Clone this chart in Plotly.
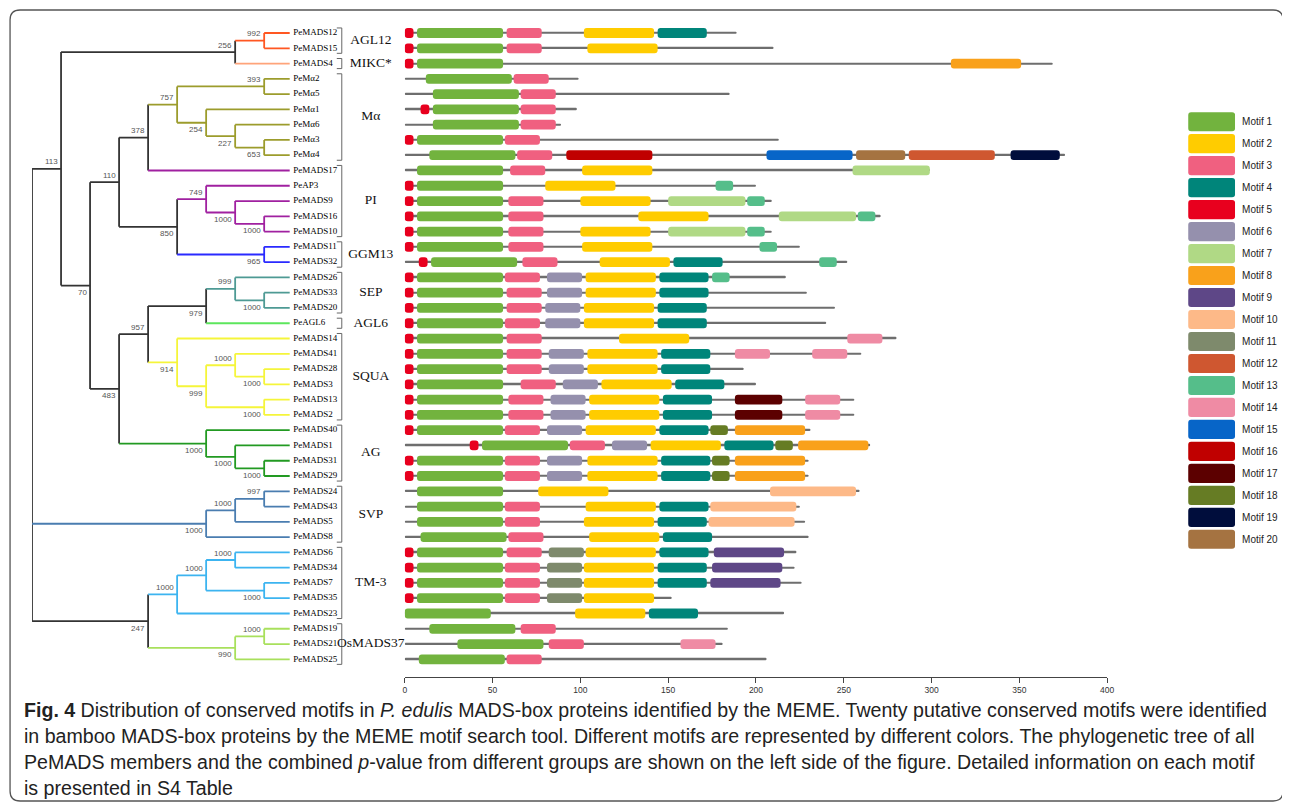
import plotly.graph_objects as go

# ---------------- DATA ----------------
PROTEINS = ["PeMADS12", "PeMADS15", "PeMADS4", "PeMα2", "PeMα5", "PeMα1", "PeMα6", "PeMα3", "PeMα4",
            "PeMADS17", "PeAP3", "PeMADS9", "PeMADS16", "PeMADS10", "PeMADS11", "PeMADS32",
            "PeMADS26", "PeMADS33", "PeMADS20", "PeAGL6", "PeMADS14", "PeMADS41", "PeMADS28",
            "PeMADS3", "PeMADS13", "PeMADS2", "PeMADS40", "PeMADS1", "PeMADS31", "PeMADS29",
            "PeMADS24", "PeMADS43", "PeMADS5", "PeMADS8", "PeMADS6", "PeMADS34", "PeMADS7",
            "PeMADS35", "PeMADS23", "PeMADS19", "PeMADS21", "PeMADS25"]

LENGTHS = [189, 210, 369, 99, 185, 98, 89, 213, 376,
           299, 200, 209, 271, 209, 225, 252,
           217, 229, 245, 240, 280, 260, 193,
           200, 256, 256, 231, 265, 230, 230,
           259, 225, 228, 230, 223, 222, 226,
           152, 216, 184, 181, 206]

# (motif number, start position) for every protein, same order as PROTEINS
MOTIF_HITS = [
    [(5, 0), (1, 7), (3, 58), (2, 102), (4, 144)],
    [(5, 0), (1, 7), (3, 58), (2, 104)],
    [(5, 0), (1, 7), (8, 311)],
    [(1, 12), (3, 62)],
    [(1, 16), (3, 66)],
    [(5, 9), (1, 16), (3, 66)],
    [(1, 16), (3, 66)],
    [(5, 0), (1, 7), (3, 57)],
    [(1, 14), (3, 64), (16, 92), (15, 206), (20, 257), (12, 287), (19, 345)],
    [(1, 7), (3, 60), (2, 101), (7, 255)],
    [(5, 0), (1, 7), (2, 80), (13, 177)],
    [(5, 0), (1, 7), (3, 59), (2, 100), (7, 150), (13, 195)],
    [(5, 0), (1, 7), (3, 59), (2, 133), (7, 213), (13, 258)],
    [(5, 0), (1, 7), (3, 59), (2, 100), (7, 150), (13, 195)],
    [(5, 0), (1, 7), (3, 59), (2, 101), (13, 202)],
    [(5, 8), (1, 15), (3, 67), (2, 111), (4, 153), (13, 236)],
    [(5, 0), (1, 7), (3, 57), (6, 81), (2, 103), (4, 145), (13, 175)],
    [(5, 0), (1, 7), (3, 58), (6, 81), (2, 103), (4, 145)],
    [(5, 0), (1, 7), (3, 58), (6, 80), (2, 102), (4, 144)],
    [(5, 0), (1, 7), (3, 57), (6, 80), (2, 102), (4, 144)],
    [(5, 0), (1, 7), (3, 58), (2, 122), (14, 252)],
    [(5, 0), (1, 7), (3, 58), (6, 82), (2, 104), (4, 146), (14, 188), (14, 232)],
    [(5, 0), (1, 7), (3, 58), (6, 82), (2, 104), (4, 146)],
    [(5, 0), (1, 7), (3, 66), (6, 90), (2, 112), (4, 154)],
    [(5, 0), (1, 7), (3, 59), (6, 83), (2, 105), (4, 147), (17, 188), (14, 228)],
    [(5, 0), (1, 7), (3, 59), (6, 83), (2, 105), (4, 147), (17, 188), (14, 228)],
    [(5, 0), (1, 7), (3, 57), (6, 81), (2, 103), (4, 145), (18, 174), (8, 188)],
    [(5, 37), (1, 44), (3, 94), (6, 118), (2, 140), (4, 182), (18, 211), (8, 224)],
    [(5, 0), (1, 7), (3, 57), (6, 81), (2, 104), (4, 146), (18, 175), (8, 188)],
    [(5, 0), (1, 7), (3, 57), (6, 81), (2, 104), (4, 146), (18, 175), (8, 188)],
    [(1, 7), (2, 76), (10, 208)],
    [(1, 7), (3, 57), (2, 103), (4, 145), (10, 174)],
    [(1, 7), (3, 57), (2, 102), (4, 144), (10, 173)],
    [(1, 9), (3, 59), (2, 105), (4, 147)],
    [(5, 0), (1, 7), (3, 58), (11, 82), (2, 103), (4, 145), (9, 176)],
    [(5, 0), (1, 7), (3, 57), (11, 81), (2, 102), (4, 144), (9, 175)],
    [(5, 0), (1, 7), (3, 57), (11, 81), (2, 102), (4, 144), (9, 174)],
    [(5, 0), (1, 7), (3, 57), (11, 81), (2, 102)],
    [(1, 0), (2, 97), (4, 139)],
    [(1, 14), (3, 66)],
    [(1, 30), (3, 82), (14, 157)],
    [(1, 8), (3, 58)],
]

MOTIF_NAMES = ["Motif %d" % i for i in range(1, 21)]
MOTIF_LEN = [49, 40, 20, 28, 5, 20, 44, 40, 40, 49, 20, 49, 10, 20, 49, 49, 27, 10, 28, 28]
MOTIF_COLORS = ["#72B33E", "#FFCC00", "#F06080", "#00857A", "#E8001E", "#9590AD", "#B0D985",
                "#F9A11B", "#5E4787", "#FDB988", "#7E8A6C", "#CF5730", "#55BE8A", "#EF8BA4",
                "#0765C8", "#C00000", "#5C0000", "#667C24", "#000D3C", "#A57341"]

AXIS_TICKS = [0, 50, 100, 150, 200, 250, 300, 350, 400]

# groups: (name, first protein, last protein, branch colour)
GROUPS = [("AGL12", "PeMADS12", "PeMADS15", "#FF5722"),
          ("MIKC*", "PeMADS4", "PeMADS4", "#FFA47A"),
          ("Mα", "PeMα2", "PeMα4", "#9C9C2C"),
          ("PI", "PeMADS17", "PeMADS10", "#A020A0"),
          ("GGM13", "PeMADS11", "PeMADS32", "#2A2AFF"),
          ("SEP", "PeMADS26", "PeMADS20", "#4E9A94"),
          ("AGL6", "PeAGL6", "PeAGL6", "#5CE65C"),
          ("SQUA", "PeMADS14", "PeMADS2", "#F5F53A"),
          ("AG", "PeMADS40", "PeMADS29", "#229A22"),
          ("SVP", "PeMADS24", "PeMADS8", "#4A7DB0"),
          ("TM-3", "PeMADS6", "PeMADS23", "#3CB4F0"),
          ("OsMADS37", "PeMADS19", "PeMADS25", "#A8E05C")]

# tree: (support, depth level, children[, label side])
TREE = ("", 0, [
    ("113", 1, [
        ("256", 7, [("992", 8, ["PeMADS12", "PeMADS15"]), "PeMADS4"]),
        ("70", 2, [
            ("110", 3, [
                ("378", 4, [
                    ("757", 5, [("393", 8, ["PeMα2", "PeMα5"]),
                                ("254", 6, ["PeMα1", ("227", 7, ["PeMα6", ("653", 8, ["PeMα3", "PeMα4"])])])]),
                    "PeMADS17"]),
                ("850", 5, [
                    ("749", 6, ["PeAP3", ("1000", 7, ["PeMADS9", ("1000", 8, ["PeMADS16", "PeMADS10"])])]),
                    ("965", 8, ["PeMADS11", "PeMADS32"])])]),
            ("483", 3, [
                ("957", 4, [
                    ("979", 6, [("999", 7, ["PeMADS26", ("1000", 8, ["PeMADS33", "PeMADS20"])]), "PeAGL6"], "below"),
                    ("914", 5, ["PeMADS14",
                                ("999", 6, [("1000", 7, ["PeMADS41", ("1000", 8, ["PeMADS28", "PeMADS3"])]),
                                            ("1000", 8, ["PeMADS13", "PeMADS2"])])])]),
                ("1000", 6, ["PeMADS40", ("1000", 7, ["PeMADS1", ("1000", 8, ["PeMADS31", "PeMADS29"])])])])])]),
    ("1000", 6, [("1000", 7, [("997", 8, ["PeMADS24", "PeMADS43"]), "PeMADS5"]), "PeMADS8"]),
    ("247", 4, [
        ("1000", 5, [("1000", 6, [("1000", 7, ["PeMADS6", "PeMADS34"]), ("1000", 8, ["PeMADS7", "PeMADS35"])]),
                     "PeMADS23"]),
        ("990", 7, [("1000", 8, ["PeMADS19", "PeMADS21"]), "PeMADS25"])])])

CAPTION = [
    "<b>Fig. 4</b> Distribution of conserved motifs in <i>P. edulis</i> MADS-box proteins identified by the MEME. Twenty putative conserved motifs were identified",
    "in bamboo MADS-box proteins by the MEME motif search tool. Different motifs are represented by different colors. The phylogenetic tree of all",
    "PeMADS members and the combined <i>p</i>-value from different groups are shown on the left side of the figure. Detailed information on each motif",
    "is presented in S4 Table",
]

# ---------------- LAYOUT CONSTANTS ----------------
OFF = 8                      # page body margin
SX = 0.9938                  # observed horizontal scale of the photograph
W, H = 1290, 810 - 2 * OFF
def PX(p):                   # target picture x pixel -> paper
    return (p / SX - OFF) / W
def PY(p):                   # target picture y pixel -> paper
    return 1 - (p - OFF) / H

BACKBONE = "#333333"
LEAF_LEVEL = 8.88
ROW0_PX, ROW_STEP = 33.0, 15.276
TOP_PX, AXIS_PX = 17.7, 677.0
Y_RANGE = [(AXIS_PX - ROW0_PX) / ROW_STEP, (TOP_PX - ROW0_PX) / ROW_STEP]
Y_DOMAIN = [PY(AXIS_PX), PY(TOP_PX)]
TREE_X0_PX, LEVEL_PX = 30.0, 29.04
X2_RANGE = [0, 13]
X2_DOMAIN = [PX(TREE_X0_PX), PX(TREE_X0_PX + 13 * LEVEL_PX)]
X_DOMAIN = [PX(403), PX(1106)]

SERIF = "Liberation Serif, Times New Roman, serif"
SANS = "Liberation Sans, Arial, sans-serif"

fig = go.Figure()

# ---------------- protein backbones + motifs ----------------
rows = list(range(len(PROTEINS)))
fig.add_trace(go.Bar(orientation="h", y=rows, x=LENGTHS, base=[0] * len(rows), width=0.11,
                     marker=dict(color="#6E6E6E", line=dict(width=0)), xaxis="x", yaxis="y",
                     showlegend=False, hoverinfo="skip"))
for m in range(1, 21):
    ys, bs = [], []
    for r, hits in enumerate(MOTIF_HITS):
        for mm, st in hits:
            if mm == m:
                ys.append(r)
                bs.append(st)
    if ys:
        fig.add_trace(go.Bar(orientation="h", y=ys, x=[MOTIF_LEN[m - 1]] * len(ys), base=bs, width=0.64,
                             marker=dict(color=MOTIF_COLORS[m - 1], line=dict(width=0)),
                             xaxis="x", yaxis="y", showlegend=False, name=MOTIF_NAMES[m - 1],
                             hoverinfo="skip"))

# ---------------- legend swatches ----------------
fig.add_trace(go.Bar(orientation="h", y=list(range(20)), x=[1] * 20, base=[0] * 20, width=0.87,
                     marker=dict(color=MOTIF_COLORS, line=dict(width=0)), xaxis="x3", yaxis="y3",
                     showlegend=False, hoverinfo="skip"))

# ---------------- tree ----------------
leaf_row = {n: i for i, n in enumerate(PROTEINS)}
group_of, group_color = {}, {}
for gname, first, last, col in GROUPS:
    group_color[gname] = col
    for r in range(leaf_row[first], leaf_row[last] + 1):
        group_of[PROTEINS[r]] = gname


def build(node):
    if isinstance(node, str):
        return dict(y=leaf_row[node], level=LEAF_LEVEL, groups={group_of[node]}, kids=[], sup=None, pos=None)
    kids = [build(k) for k in node[2]]
    return dict(y=(kids[0]["y"] + kids[-1]["y"]) / 2, level=node[1],
                groups=set().union(*[k["groups"] for k in kids]), kids=kids, sup=node[0],
                pos=node[3] if len(node) > 3 else None)


root = build(TREE)
segs = {}
boot = []


def add_seg(col, xs, ys):
    d = segs.setdefault(col, ([], []))
    d[0].extend(xs + [None])
    d[1].extend(ys + [None])


def draw(n, parent_level, idx):
    col = group_color[next(iter(n["groups"]))] if len(n["groups"]) == 1 else BACKBONE
    if parent_level is not None:
        add_seg(col, [parent_level, n["level"]], [n["y"], n["y"]])
        if n["sup"]:
            side = n["pos"] or ("above" if idx == 0 else "below")
            boot.append((n["level"], n["y"], n["sup"], side))
    if n["kids"]:
        add_seg(col, [n["level"], n["level"]], [n["kids"][0]["y"], n["kids"][-1]["y"]])
        for i, k in enumerate(n["kids"]):
            draw(k, n["level"], i)


draw(root, None, 0)
for col, (xs, ys) in segs.items():
    fig.add_trace(go.Scatter(x=xs, y=ys, mode="lines", line=dict(color=col, width=1.8),
                             xaxis="x2", yaxis="y", showlegend=False, hoverinfo="skip"))

# leaf names
fig.add_trace(go.Scatter(x=[LEAF_LEVEL + 0.12] * len(PROTEINS), y=rows, mode="text", text=PROTEINS,
                         textposition="middle right", cliponaxis=False,
                         textfont=dict(family=SERIF, size=9, color="#000000"),
                         xaxis="x2", yaxis="y", showlegend=False, hoverinfo="skip"))

# group brackets and labels
BR_X, BR_TICK = (340 - TREE_X0_PX) / LEVEL_PX, (335 - TREE_X0_PX) / LEVEL_PX
GL_X = (369 - TREE_X0_PX) / LEVEL_PX
bx, by, gx, gy, gt = [], [], [], [], []
for gname, first, last, col in GROUPS:
    r0, r1 = leaf_row[first], leaf_row[last]
    bx += [BR_TICK, BR_X, BR_X, BR_TICK, None]
    by += [r0 - 0.33, r0 - 0.33, r1 + 0.33, r1 + 0.33, None]
    gx.append(GL_X)
    gy.append((r0 + r1) / 2)
    gt.append(gname)
fig.add_trace(go.Scatter(x=bx, y=by, mode="lines", line=dict(color="#666666", width=1),
                         xaxis="x2", yaxis="y", showlegend=False, hoverinfo="skip"))
fig.add_trace(go.Scatter(x=gx, y=gy, mode="text", text=gt, textposition="middle center", cliponaxis=False,
                         textfont=dict(family=SERIF, size=13.5, color="#111111"),
                         xaxis="x2", yaxis="y", showlegend=False, hoverinfo="skip"))

annotations = []
for lv, y, s, side in boot:
    annotations.append(dict(x=lv, y=y, xref="x2", yref="y", text=s, showarrow=False,
                            xanchor="right", yanchor="bottom" if side == "above" else "top",
                            xshift=-1.5, yshift=0.5 if side == "above" else -0.5,
                            font=dict(family=SANS, size=8, color="#555555")))

CAP_Y = [710, 736, 762, 788]
for line, ypx in zip(CAPTION, CAP_Y):
    annotations.append(dict(x=PX(20), y=PY(ypx), xref="paper", yref="paper", text=line,
                            showarrow=False, xanchor="left", yanchor="middle",
                            font=dict(family=SANS, size=19.6, color="#222222")))

# frame
fx0, fx1, fy0, fy1, rr = 8, 1282, 10, 801, 10
def P(xp, yp):
    return "%.5f,%.5f" % (PX(xp), PY(yp))
frame_path = ("M " + P(fx0 + rr, fy0) + " L " + P(fx1 - rr, fy0) + " Q " + P(fx1, fy0) + " " + P(fx1, fy0 + rr) +
              " L " + P(fx1, fy1 - rr) + " Q " + P(fx1, fy1) + " " + P(fx1 - rr, fy1) +
              " L " + P(fx0 + rr, fy1) + " Q " + P(fx0, fy1) + " " + P(fx0, fy1 - rr) +
              " L " + P(fx0, fy0 + rr) + " Q " + P(fx0, fy0) + " " + P(fx0 + rr, fy0) + " Z")

fig.update_layout(
    width=W, height=H, margin=dict(l=0, r=0, t=0, b=0),
    paper_bgcolor="white", plot_bgcolor="rgba(0,0,0,0)",
    barmode="overlay", barcornerradius=3, showlegend=False,
    xaxis=dict(domain=X_DOMAIN, range=[0, 400], anchor="y", showgrid=False, zeroline=False,
               showline=True, linecolor="#444444", linewidth=1.2, ticks="outside", ticklen=5,
               tickcolor="#444444", tickvals=AXIS_TICKS, ticktext=[str(t) for t in AXIS_TICKS],
               tickfont=dict(family=SANS, size=8.5, color="#333333")),
    yaxis=dict(domain=Y_DOMAIN, range=Y_RANGE, anchor="x", visible=False),
    xaxis2=dict(domain=X2_DOMAIN, range=X2_RANGE, anchor="y", visible=False),
    xaxis3=dict(domain=[PX(1187), PX(1234)], range=[0, 1], anchor="y3", visible=False),
    yaxis3=dict(domain=[PY(550.3), PY(110.7)], range=[19.5, -0.5], anchor="x3", side="right",
                showgrid=False, zeroline=False, showline=False, ticks="outside", ticklen=4,
                tickcolor="rgba(0,0,0,0)", tickvals=list(range(20)), ticktext=MOTIF_NAMES,
                tickfont=dict(family=SANS, size=10, color="#222222")),
    annotations=annotations,
    shapes=[dict(type="path", path=frame_path, xref="paper", yref="paper",
                 line=dict(color="#555555", width=1.3), layer="above")],
)

fig.write_html("out.html")
